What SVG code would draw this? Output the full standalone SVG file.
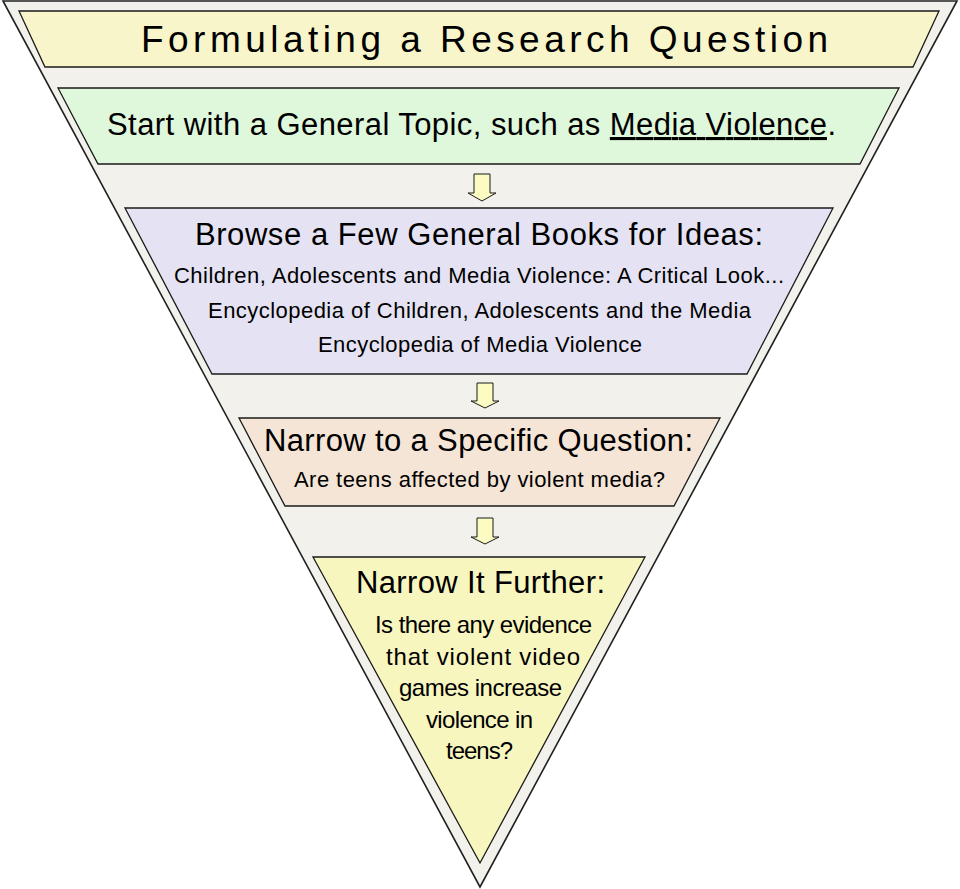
<svg xmlns="http://www.w3.org/2000/svg" width="960" height="889" viewBox="0 0 960 889">
<style>
  .band { stroke: #1a1a1a; stroke-width: 1.3; stroke-linejoin: miter; }
  .arrow { fill: #FBFBC2; stroke: #1a1a1a; stroke-width: 1; }
  text { font-family: "Liberation Sans", Arial, sans-serif; fill: #000; }
  .title { font-size: 37px; }
  .head { font-size: 31px; }
  .sub { font-size: 22px; }
  .tip { font-size: 24px; }
</style>
<rect x="0" y="0" width="960" height="889" fill="#ffffff"/>
<g id="funnel">
  <polygon points="3,1 957,1 480,887" fill="#F2F1EC" stroke="#222" stroke-width="1.6"/>
</g>
<g id="node-title">
  <polygon class="band" points="19,11 939,11 913,67 45,67" fill="#F7F5C9"/>
  <text class="title" x="141" y="52" textLength="687" lengthAdjust="spacing">Formulating a Research Question</text>
</g>
<g id="node-topic">
  <polygon class="band" points="58,88 899,88 860,164 98,164" fill="#DFF7DB"/>
  <text class="head" x="107" y="135" textLength="729" lengthAdjust="spacing">Start with a General Topic, such as <tspan text-decoration="underline">Media Violence</tspan>.</text>
</g>
<g id="node-books">
  <polygon class="band" points="125,208 833,208 747,374 212,374" fill="#E5E3F3"/>
  <text class="head" x="195" y="245" textLength="568" lengthAdjust="spacing">Browse a Few General Books for Ideas:</text>
  <text class="sub" x="174" y="283" textLength="610" lengthAdjust="spacing">Children, Adolescents and Media Violence: A Critical Look...</text>
  <text class="sub" x="208" y="318" textLength="543" lengthAdjust="spacing">Encyclopedia of Children, Adolescents and the Media</text>
  <text class="sub" x="318" y="352" textLength="324" lengthAdjust="spacing">Encyclopedia of Media Violence</text>
</g>
<g id="node-question">
  <polygon class="band" points="239,418 720,418 674,506 285,506" fill="#F5E5D6"/>
  <text class="head" x="264" y="451" textLength="429" lengthAdjust="spacing">Narrow to a Specific Question:</text>
  <text class="sub" x="294" y="487" textLength="371" lengthAdjust="spacing">Are teens affected by violent media?</text>
</g>
<g id="node-further">
  <polygon class="band" points="313,557 645,557 480,863" fill="#F8F6BF"/>
  <text class="head" x="356" y="593" textLength="249" lengthAdjust="spacing">Narrow It Further:</text>
  <text class="tip" x="375" y="633" textLength="217" lengthAdjust="spacing">Is there any evidence</text>
  <text class="tip" x="386" y="665" textLength="194" lengthAdjust="spacing">that violent video</text>
  <text class="tip" x="399" y="696" textLength="163" lengthAdjust="spacing">games increase</text>
  <text class="tip" x="426" y="728" textLength="107" lengthAdjust="spacing">violence in</text>
  <text class="tip" x="446" y="759" textLength="67" lengthAdjust="spacing">teens?</text>
</g>
<g id="connectors">
  <polygon class="arrow" points="474,174 490,174 490,193 496,193 482,201 468,193 474,193"/>
  <polygon class="arrow" points="477,383 493,383 493,401 499,401 485,408 471,401 477,401"/>
  <polygon class="arrow" points="477,518 493,518 493,537 499,537 485,544 471,537 477,537"/>
</g>
</svg>
